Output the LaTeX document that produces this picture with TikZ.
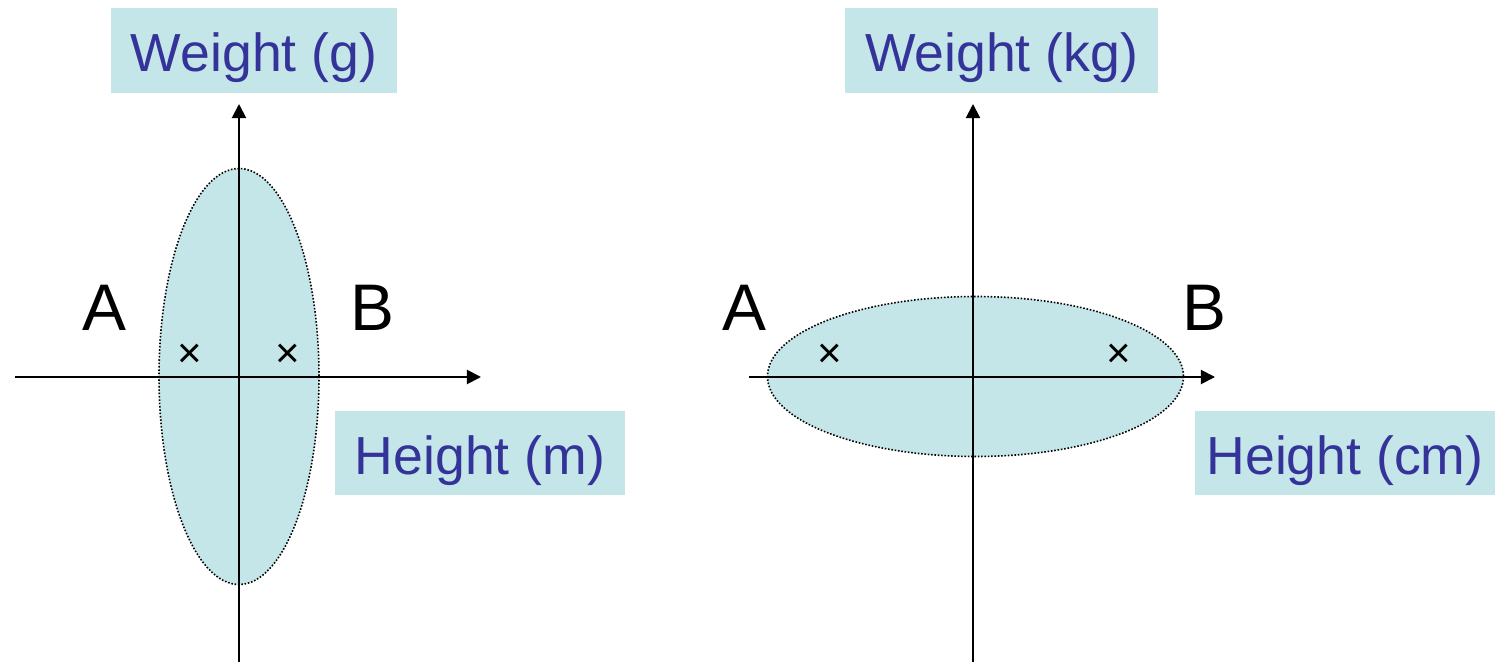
\documentclass[tikz,border=0pt]{standalone}
\usepackage{fontspec}
\setmainfont{Liberation Sans}
\usepackage{xcolor}
\usetikzlibrary{positioning,arrows.meta}

\definecolor{boxfill}{RGB}{197,230,232}
\definecolor{labblue}{RGB}{51,51,153}

\begin{document}
\begin{tikzpicture}[
    x=0.02cm, y=-0.02cm,
    >={Triangle[length=8pt,width=8pt]},
    axis/.style={line width=1.1pt, ->},
    blob/.style={fill=boxfill, draw=black, line width=0.9pt, densely dotted},
    lab/.style={fill=boxfill, text=labblue, inner sep=0pt, text height=1.27cm, text depth=0.42cm,
                font=\fontsize{30.5}{36}\selectfont},
    pt/.style={font=\fontsize{37.5}{44}\selectfont, inner sep=0pt},
    mk/.style={font=\fontsize{24}{28}\selectfont, inner sep=0pt},
  ]
    \useasboundingbox (0,0) rectangle (1495,662);

    % left: grams / metres
    \fill[blob] (239,376.5) ellipse [x radius=80, y radius=208];
    \coordinate (lx0) at (15,377);   \coordinate (lx1) at (481,377);
    \coordinate (ly0) at (239,662);  \coordinate (ly1) at (239,104);
    \draw[axis] (lx0) -- (lx1);
    \draw[axis] (ly0) -- (ly1);
    \node[lab, minimum width=286*0.02cm] (wg) at (254,50.5) {Weight (g)};
    \node[lab, minimum width=290*0.02cm] (hm) at (480,453) {Height (m)};
    \node[pt] (la) at (104,308) {A};
    \node[pt] (lb) at (372,308) {B};
    \node[mk] (xa) at (190,356) {×};
    \node[mk] (xb) at (288,356) {×};

    % right: kilograms / centimetres
    \fill[blob] (975.5,376.5) ellipse [x radius=208, y radius=80];
    \coordinate (rx0) at (749,377);  \coordinate (rx1) at (1215,377);
    \coordinate (ry0) at (973,662);  \coordinate (ry1) at (973,104);
    \draw[axis] (rx0) -- (rx1);
    \draw[axis] (ry0) -- (ry1);
    \node[lab, minimum width=313*0.02cm] (wkg) at (1001.5,50.5) {Weight (kg)};
    \node[lab, minimum width=300*0.02cm] (hcm) at (1345,453) {Height (cm)};
    \node[pt] (ra) at (744,308) {A};
    \node[pt] (rb) at (1204,308) {B};
    \node[mk] (ya) at (830,356) {×};
    \node[mk] (yb) at (1119,356) {×};
  \end{tikzpicture}
\end{document}
